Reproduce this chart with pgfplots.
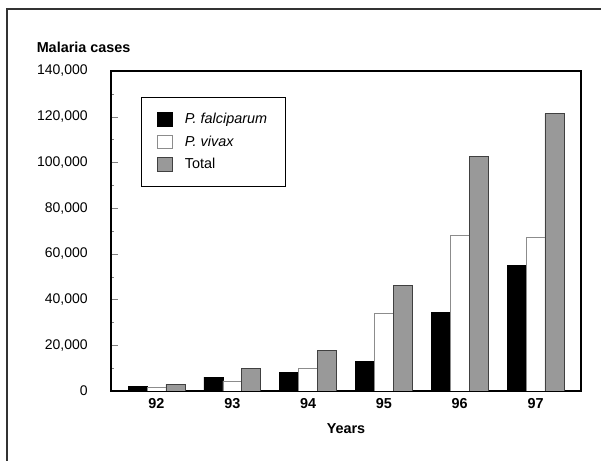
\documentclass[border=0pt]{standalone}
\usepackage{fontspec}
\setmainfont{Liberation Sans}
\usepackage{pgfplots}
\pgfplotsset{compat=1.18}

\definecolor{totalgray}{HTML}{999999}
\definecolor{framegray}{HTML}{333333}

\begin{document}
\begin{tikzpicture}
\begin{axis}[
    scale only axis,
    width=352.5pt, height=240pt,
    xmin=91.4, xmax=97.6,
    ymin=0, ymax=140000,
    ybar=0pt,
    bar width=0.25,
    xtick={92,93,94,95,96,97},
    xtick style={draw=none},
    xticklabel style={font=\fontsize{10.8}{12}\selectfont\bfseries, yshift=-2pt},
    ytick={0,20000,...,140000},
    minor y tick num=1,
    ytick pos=left,
    tick align=inside,
    major tick length=5pt,
    minor tick length=2.5pt,
    scaled y ticks=false,
    yticklabel style={font=\fontsize{10.5}{12}\selectfont, xshift=-14pt},
    /pgf/number format/.cd, fixed, 1000 sep={,}, assume math mode=true,
    /pgfplots/.cd,
    xlabel={Years},
    xlabel style={font=\fontsize{10.8}{12}\selectfont\bfseries, at={(axis description cs:0.5,-0.116)}, anchor=center},
    ylabel={Malaria cases},
    ylabel style={font=\fontsize{10.8}{12}\selectfont\bfseries, rotate=-90, at={(axis description cs:-0.168,1.075)}, anchor=west},
    axis line style={black, line width=0.8pt},
    legend style={at={(axis description cs:0.064,0.919)}, anchor=north west,
        draw=black, line width=0.6pt, inner xsep=12pt, inner ysep=10pt, row sep=3.5pt,
        font=\fontsize{10.8}{12}\selectfont, cells={anchor=west}},
    legend image code/.code={\draw[#1, line width=0.6pt] (0pt,-5pt) rectangle (11pt,5pt); \path (18pt,0pt);},
]
\addplot[fill=black, draw=black, bar shift=-0.25] coordinates {
    (92,1900) (93,6100) (94,8000) (95,12800) (96,34400) (97,54800)
};
\addlegendentry{\textit{P. falciparum}}
\addplot[fill=white, draw=black!45, bar shift=0] coordinates {
    (92,1600) (93,4400) (94,10000) (95,34000) (96,68300) (97,67200)
};
\addlegendentry{\textit{P. vivax}}
\addplot[fill=totalgray, draw=black!75, bar shift=0.25] coordinates {
    (92,2900) (93,9900) (94,17700) (95,46200) (96,102500) (97,121400)
};
\addlegendentry{Total}
\end{axis}
\draw[framegray, line width=0.9pt] (-78pt,-60pt) -- (-78pt,286.5pt) -- (380pt,286.5pt);
\pgfresetboundingbox
\path (-83.25pt,-52.5pt) rectangle (367.5pt,293.25pt);
\end{tikzpicture}
\end{document}
